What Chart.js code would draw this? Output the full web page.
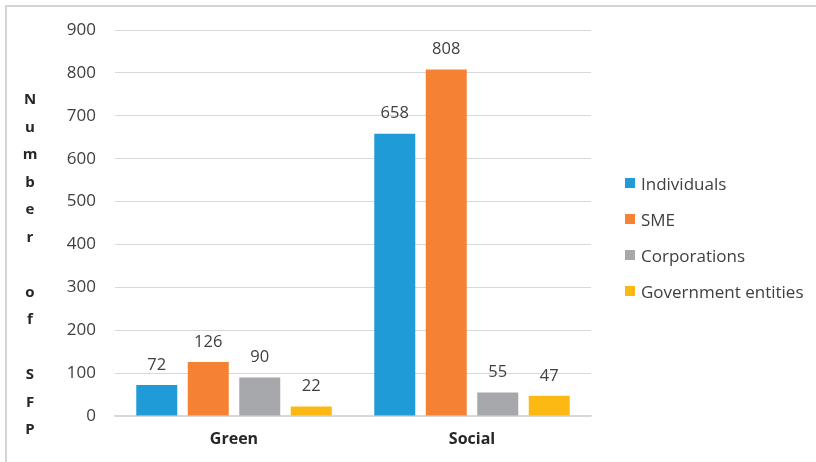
<!DOCTYPE html>
<html>
<head>
<meta charset="utf-8">
<script src="https://cdn.jsdelivr.net/npm/chart.js@4.4.0/dist/chart.umd.min.js"></script>
<style>
  html, body { margin: 0; padding: 0; background: #fff; }
  #wrap { position: relative; width: 816px; height: 462px; overflow: hidden; }
  #frame { position: absolute; left: 5px; top: 5px; right: -10px; bottom: -10px; border-top: 2px solid #D4D4D4; border-left: 2px solid #D4D4D4; pointer-events: none; }
  #legend { position: absolute; left: 625px; top: 0; font-family: "Open Sans", sans-serif; font-size: 17px; color: #404040; }
  .item { position: absolute; left: 0; white-space: nowrap; display: flex; align-items: center; height: 20px; }
  .sw { width: 10px; height: 10px; margin-right: 6px; }
</style>
</head>
<body>
<div id="wrap">
  <canvas id="c" width="816" height="462"></canvas>
  <div id="frame"></div>
  <div id="legend"></div>
</div>
<script>
const categories = ["Green", "Social"];
const seriesNames = ["Individuals", "SME", "Corporations", "Government entities"];
const individuals = [72, 658];
const sme = [126, 808];
const corporations = [90, 55];
const government = [22, 47];
const yTicks = [0, 100, 200, 300, 400, 500, 600, 700, 800, 900];
const yTitle = "Number of SFP";
const colors = ["#1F9BD7", "#F58233", "#A7A8AB", "#FDB913"];

const seriesValues = [individuals, sme, corporations, government];

const FONT = '"Open Sans", sans-serif';
const TEXT = '#404040';

const labelPlugin = {
  id: 'valueLabels',
  afterDatasetsDraw(chart) {
    const ctx = chart.ctx;
    ctx.save();
    ctx.font = '16.5px ' + FONT;
    ctx.fillStyle = TEXT;
    ctx.textAlign = 'center';
    ctx.textBaseline = 'middle';
    chart.data.datasets.forEach((ds, i) => {
      const meta = chart.getDatasetMeta(i);
      meta.data.forEach((bar, j) => {
        ctx.fillText(String(ds.data[j]), bar.x, bar.y - 20);
      });
    });
    ctx.restore();
  }
};

const titlePlugin = {
  id: 'verticalTitle',
  afterDraw(chart) {
    const ctx = chart.ctx;
    ctx.save();
    ctx.font = 'bold 15px ' + FONT;
    ctx.fillStyle = '#262626';
    ctx.textAlign = 'center';
    ctx.textBaseline = 'middle';
    const chars = yTitle.split('');
    const step = 27.5;
    const mid = (chart.chartArea.top + chart.chartArea.bottom) / 2 + 42;
    const start = mid - step * (chars.length - 1) / 2;
    chars.forEach((ch, k) => {
      if (ch.trim()) ctx.fillText(ch, 30, start + k * step);
    });
    ctx.restore();
  }
};

const chart = new Chart(document.getElementById('c'), {
  type: 'bar',
  data: {
    labels: categories,
    datasets: seriesNames.map((n, i) => ({
      label: n,
      data: seriesValues[i],
      backgroundColor: colors[i],
      borderWidth: 0,
      categoryPercentage: 0.8655,
      barPercentage: 0.796
    }))
  },
  options: {
    responsive: false,
    animation: false,
    layout: { padding: { left: 0, right: 225, top: 30, bottom: 0 } },
    plugins: {
      legend: { display: false },
      tooltip: { enabled: false }
    },
    scales: {
      x: {
        grid: { display: false, drawTicks: false },
        border: { display: true, color: '#D0DAE4', width: 1.5 },
        ticks: { font: { family: FONT, size: 16, weight: 'bold' }, color: '#262626', padding: 14 },
        afterFit(scale) { scale.height = 46; }
      },
      y: {
        min: 0, max: 900,
        afterBuildTicks(scale) { scale.ticks = yTicks.map(v => ({ value: v })); },
        grid: { color: '#D9D9D9', lineWidth: 1, drawTicks: false },
        border: { display: false },
        ticks: { font: { family: FONT, size: 17 }, color: TEXT, padding: 19 },
        afterFit(scale) { scale.width = 115; }
      }
    }
  },
  plugins: [labelPlugin, titlePlugin]
});

// HTML legend built from the series arrays
const leg = document.getElementById('legend');
const legendTop = 183, legendStep = 36;
seriesNames.forEach((n, i) => {
  const it = document.createElement('div');
  it.className = 'item';
  it.style.top = (legendTop + i * legendStep - 10) + 'px';
  const sw = document.createElement('span');
  sw.className = 'sw';
  sw.style.background = colors[i];
  const tx = document.createElement('span');
  tx.textContent = n;
  it.appendChild(sw);
  it.appendChild(tx);
  leg.appendChild(it);
});
</script>
</body>
</html>
